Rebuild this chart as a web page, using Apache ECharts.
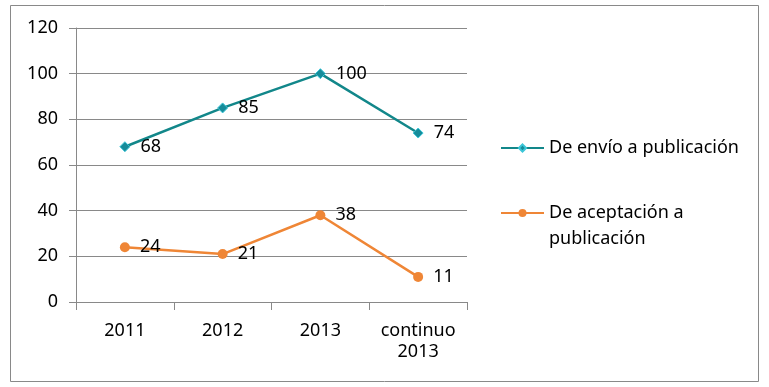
<!DOCTYPE html>
<html><head><meta charset="utf-8">
<script src="https://cdn.jsdelivr.net/npm/echarts@6/dist/echarts.min.js"></script>
<style>html,body{margin:0;padding:0;background:#fff}#c{width:769px;height:387px}</style>
</head><body><div id="c"></div>
<script>
const categories = ['2011', '2012', '2013', 'continuo\n2013'];
const envio = [68, 85, 100, 74];
const aceptacion = [24, 21, 38, 11];
const seriesNames = ['De envío a publicación', 'De aceptación a publicación'];
const yTicks = { min: 0, max: 120, interval: 20 };

const FONT = 'Noto Sans';
const FS = 18;
const chart = echarts.init(document.getElementById('c'), null, { renderer: 'canvas' });
const labelStyle = { show: true, position: 'right', distance: 10, color: '#000', fontFamily: FONT, fontSize: FS };
chart.setOption({
  animation: false,
  textStyle: { fontFamily: FONT },
  graphic: [{ type: 'rect', shape: { x: 10.5, y: 5.5, width: 748, height: 376 }, style: { fill: 'none', stroke: '#898989', lineWidth: 1 }, silent: true }],
  grid: { left: 76, right: 302, top: 28, bottom: 85 },
  xAxis: {
    type: 'category', data: categories, boundaryGap: true,
    axisLine: { lineStyle: { color: '#898989', width: 1 } },
    axisTick: { show: true, length: 8, lineStyle: { color: '#898989' } },
    axisLabel: { color: '#000', fontSize: FS, fontFamily: FONT, margin: 18, lineHeight: 21 }
  },
  yAxis: {
    type: 'value', min: yTicks.min, max: yTicks.max, interval: yTicks.interval,
    axisLine: { show: true, lineStyle: { color: '#898989', width: 1 } },
    axisTick: { show: true, length: 7, lineStyle: { color: '#898989' } },
    axisLabel: { color: '#000', fontSize: FS, fontFamily: FONT, margin: 18 },
    splitLine: { lineStyle: { color: '#898989', width: 1 } }
  },
  legend: [
    { data: [seriesNames[0]], orient: 'vertical', left: 500, top: 135, padding: 0, itemWidth: 43, itemHeight: 9, itemGap: 0,
      textStyle: { color: '#000', fontSize: FS, fontFamily: FONT, lineHeight: 26 } },
    { data: [seriesNames[1]], orient: 'vertical', left: 500, top: 174, padding: 0, itemWidth: 43, itemHeight: 10, itemGap: 0,
      formatter: () => '\nDe aceptación a\npublicación',
      textStyle: { color: '#000', fontSize: FS, fontFamily: FONT, lineHeight: 26 } }
  ],
  series: [
    { name: seriesNames[0], type: 'line', data: envio, symbol: 'diamond', symbolSize: 10,
      lineStyle: { color: '#12878a', width: 2.5 },
      itemStyle: { color: '#168c9a', borderColor: '#3cc6d8', borderWidth: 1 },
      label: labelStyle },
    { name: seriesNames[1], type: 'line', data: aceptacion, symbol: 'circle', symbolSize: 10,
      lineStyle: { color: '#ef8636', width: 2.5 },
      itemStyle: { color: '#ef8636' },
      label: labelStyle }
  ]
});
</script></body></html>
